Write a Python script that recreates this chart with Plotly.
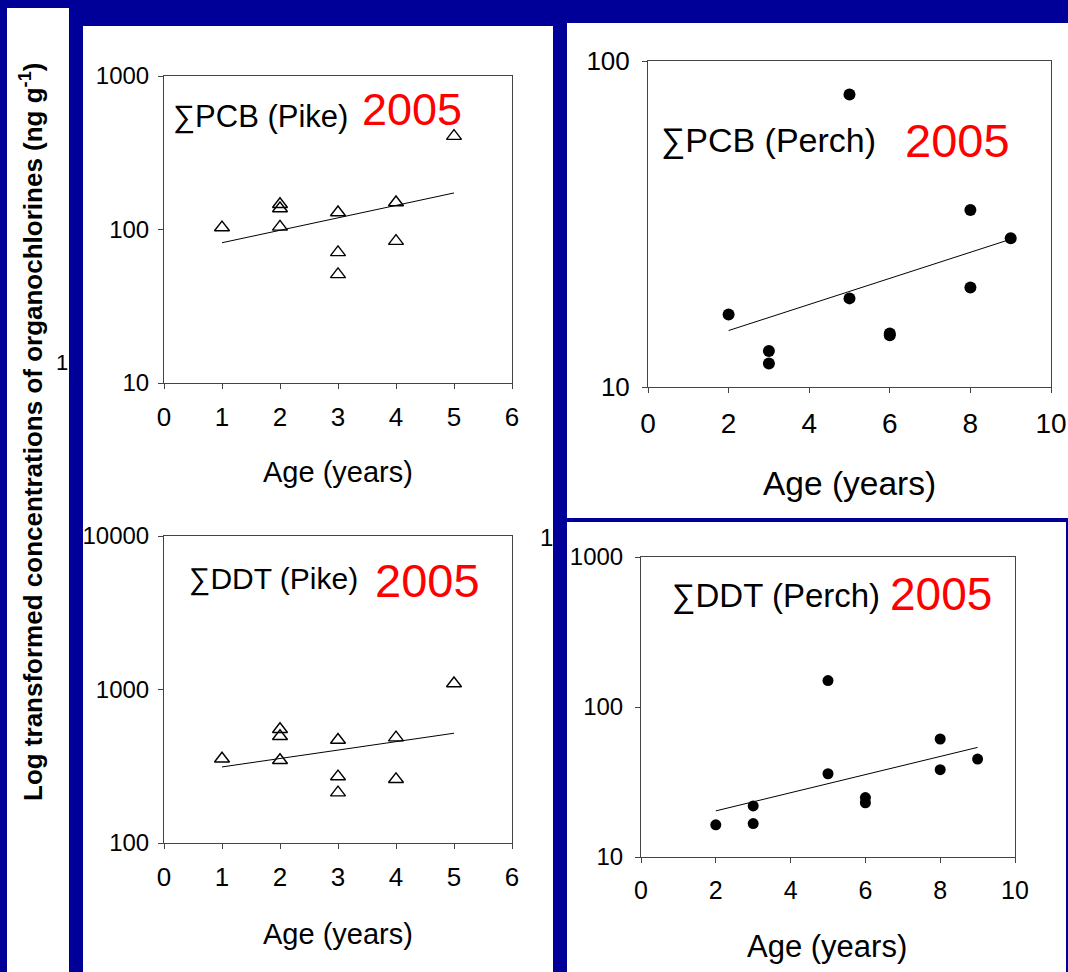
import plotly.graph_objects as go

# ---------------- data ----------------
pike_age = [1, 2, 2, 2, 3, 3, 3, 4, 4, 5]
pike_pcb = [103, 146, 137, 104, 129, 71, 51, 150, 84, 406]
pike_pcb_trend_x = [1, 5]
pike_pcb_trend_y = [82, 173]

pike_ddt = [354, 551, 496, 346, 469, 271, 213, 486, 260, 1094]
pike_ddt_trend_x = [1, 5]
pike_ddt_trend_y = [313, 519]

perch_age = [2, 3, 3, 5, 5, 6, 6, 8, 8, 9]
perch_pcb = [16.7, 12.9, 11.8, 78.9, 18.7, 14.6, 14.4, 34.9, 20.2, 28.6]
perch_pcb_trend_x = [2, 9]
perch_pcb_trend_y = [14.9, 28.4]

perch_ddt = [16.4, 21.9, 16.7, 150, 35.9, 24.9, 23.0, 61.2, 38.2, 45.0]
perch_ddt_trend_x = [2, 9]
perch_ddt_trend_y = [20.3, 53.8]

pike_xticks = [0, 1, 2, 3, 4, 5, 6]
perch_xticks = [0, 2, 4, 6, 8, 10]
yt_10_1000 = [10, 100, 1000]
yt_10_100 = [10, 100]
yt_100_10000 = [100, 1000, 10000]

titles = ["∑PCB (Pike)", "∑PCB (Perch)", "∑DDT (Pike)", "∑DDT (Perch)"]
year_label = "2005"
x_title = "Age (years)"
y_title = "Log transformed concentrations of organochlorines (ng g<sup>-1</sup>)"

# ---------------- layout helpers ----------------
W, H = 1068, 972
FONT = "Liberation Sans, Arial, sans-serif"
BLUE = "#000099"


def xd(a, b):
    return [a / W, b / W]


def yd(top, bottom):
    return [1 - bottom / H, 1 - top / H]


fig = go.Figure()

marker_tri = dict(symbol="triangle-up-open", size=13, color="black", line=dict(width=1.4, color="black"))
marker_dot12 = dict(symbol="circle", size=12, color="black")
marker_dot11 = dict(symbol="circle", size=11, color="black")
line_style = dict(color="black", width=1)

fig.add_trace(go.Scatter(x=pike_age, y=pike_pcb, mode="markers", marker=marker_tri, xaxis="x", yaxis="y"))
fig.add_trace(go.Scatter(x=pike_pcb_trend_x, y=pike_pcb_trend_y, mode="lines", line=line_style, xaxis="x", yaxis="y"))

fig.add_trace(go.Scatter(x=perch_age, y=perch_pcb, mode="markers", marker=marker_dot12, xaxis="x2", yaxis="y2"))
fig.add_trace(go.Scatter(x=perch_pcb_trend_x, y=perch_pcb_trend_y, mode="lines", line=line_style, xaxis="x2", yaxis="y2"))

fig.add_trace(go.Scatter(x=pike_age, y=pike_ddt, mode="markers", marker=marker_tri, xaxis="x3", yaxis="y3"))
fig.add_trace(go.Scatter(x=pike_ddt_trend_x, y=pike_ddt_trend_y, mode="lines", line=line_style, xaxis="x3", yaxis="y3"))

fig.add_trace(go.Scatter(x=perch_age, y=perch_ddt, mode="markers", marker=marker_dot11, xaxis="x4", yaxis="y4"))
fig.add_trace(go.Scatter(x=perch_ddt_trend_x, y=perch_ddt_trend_y, mode="lines", line=line_style, xaxis="x4", yaxis="y4"))


def xaxis(dom, rng, ticks, anchor, size):
    return dict(domain=dom, range=rng, tickvals=ticks, ticktext=[str(t) for t in ticks],
                anchor=anchor, showgrid=False, zeroline=False, showline=True, mirror=True,
                linecolor="#444444", linewidth=1, ticks="outside", ticklen=5, tickcolor="#444444",
                tickfont=dict(family=FONT, size=size, color="black"), ticklabelstandoff=6,
                automargin=False, fixedrange=True)


def yaxis(dom, rng, ticks, anchor, size, standoff=4):
    return dict(domain=dom, type="log", range=rng, tickvals=ticks, ticktext=[str(t) for t in ticks],
                anchor=anchor, showgrid=False, zeroline=False, showline=True, mirror=True,
                linecolor="#444444", linewidth=1, ticks="outside", ticklen=5, tickcolor="#444444",
                tickfont=dict(family=FONT, size=size, color="black"), ticklabelstandoff=standoff,
                automargin=False, fixedrange=True)


fig.update_layout(
    xaxis=xaxis(xd(164, 512), [0, 6], pike_xticks, "y", 26),
    yaxis=yaxis(yd(76, 383), [1, 3], yt_10_1000, "x", 24),
    xaxis2=xaxis(xd(648, 1051), [0, 10], perch_xticks, "y2", 28),
    yaxis2=yaxis(yd(61, 387), [1, 2], yt_10_100, "x2", 26, 7),
    xaxis3=xaxis(xd(164, 512), [0, 6], pike_xticks, "y3", 26),
    yaxis3=yaxis(yd(536, 843), [2, 4], yt_100_10000, "x3", 24),
    xaxis4=xaxis(xd(641, 1015), [0, 10], perch_xticks, "y4", 25),
    yaxis4=yaxis(yd(557, 857), [1, 3], yt_10_1000, "x4", 24, 7),
)

# white panels on the blue slide background
panels = [(7, 8, 69, 972), (83, 26, 553, 972), (567, 23, 1068, 518), (567, 522, 1066, 972)]
shapes = []
for (x0, y0, x1, y1) in panels:
    shapes.append(dict(type="rect", xref="paper", yref="paper", x0=x0 / W, x1=x1 / W,
                       y0=1 - y1 / H, y1=1 - y0 / H, fillcolor="white", line=dict(width=0),
                       layer="below"))

annotations = []


def ann(text, x, y, size, color="black", xanchor="left", bold=False, angle=0):
    annotations.append(dict(text=("<b>%s</b>" % text) if bold else text, x=x / W, y=1 - y / H,
                            xref="paper", yref="paper", xanchor=xanchor, yanchor="middle",
                            showarrow=False, textangle=angle,
                            font=dict(family=FONT, size=size, color=color)))


ann(titles[0], 171, 117, 31)
ann(year_label, 360, 110, 45, "red")
ann(titles[1], 659, 141, 34)
ann(year_label, 903, 140, 47, "red")
ann(titles[2], 187, 579, 30)
ann(year_label, 373, 580, 47, "red")
ann(titles[3], 670, 595, 33)
ann(year_label, 888, 594, 46, "red")

ann(x_title, 338, 472, 29, xanchor="center")
ann(x_title, 850, 483, 33.5, xanchor="center")
ann(x_title, 338, 934, 29, xanchor="center")
ann(x_title, 827, 946, 31, xanchor="center")

ann(y_title, 31, 432, 26, xanchor="center", bold=True, angle=-90)

ann("1", 62, 362, 22, xanchor="center")
ann("1", 546, 537, 24, xanchor="center")

fig.update_layout(
    width=W, height=H, autosize=False,
    margin=dict(l=0, r=0, t=0, b=0, pad=0),
    paper_bgcolor=BLUE, plot_bgcolor="white",
    showlegend=False, shapes=shapes, annotations=annotations,
)

fig.write_html("out.html", config={"displayModeBar": False},
               post_script="document.body.style.margin='0';document.body.style.overflow='hidden';")
